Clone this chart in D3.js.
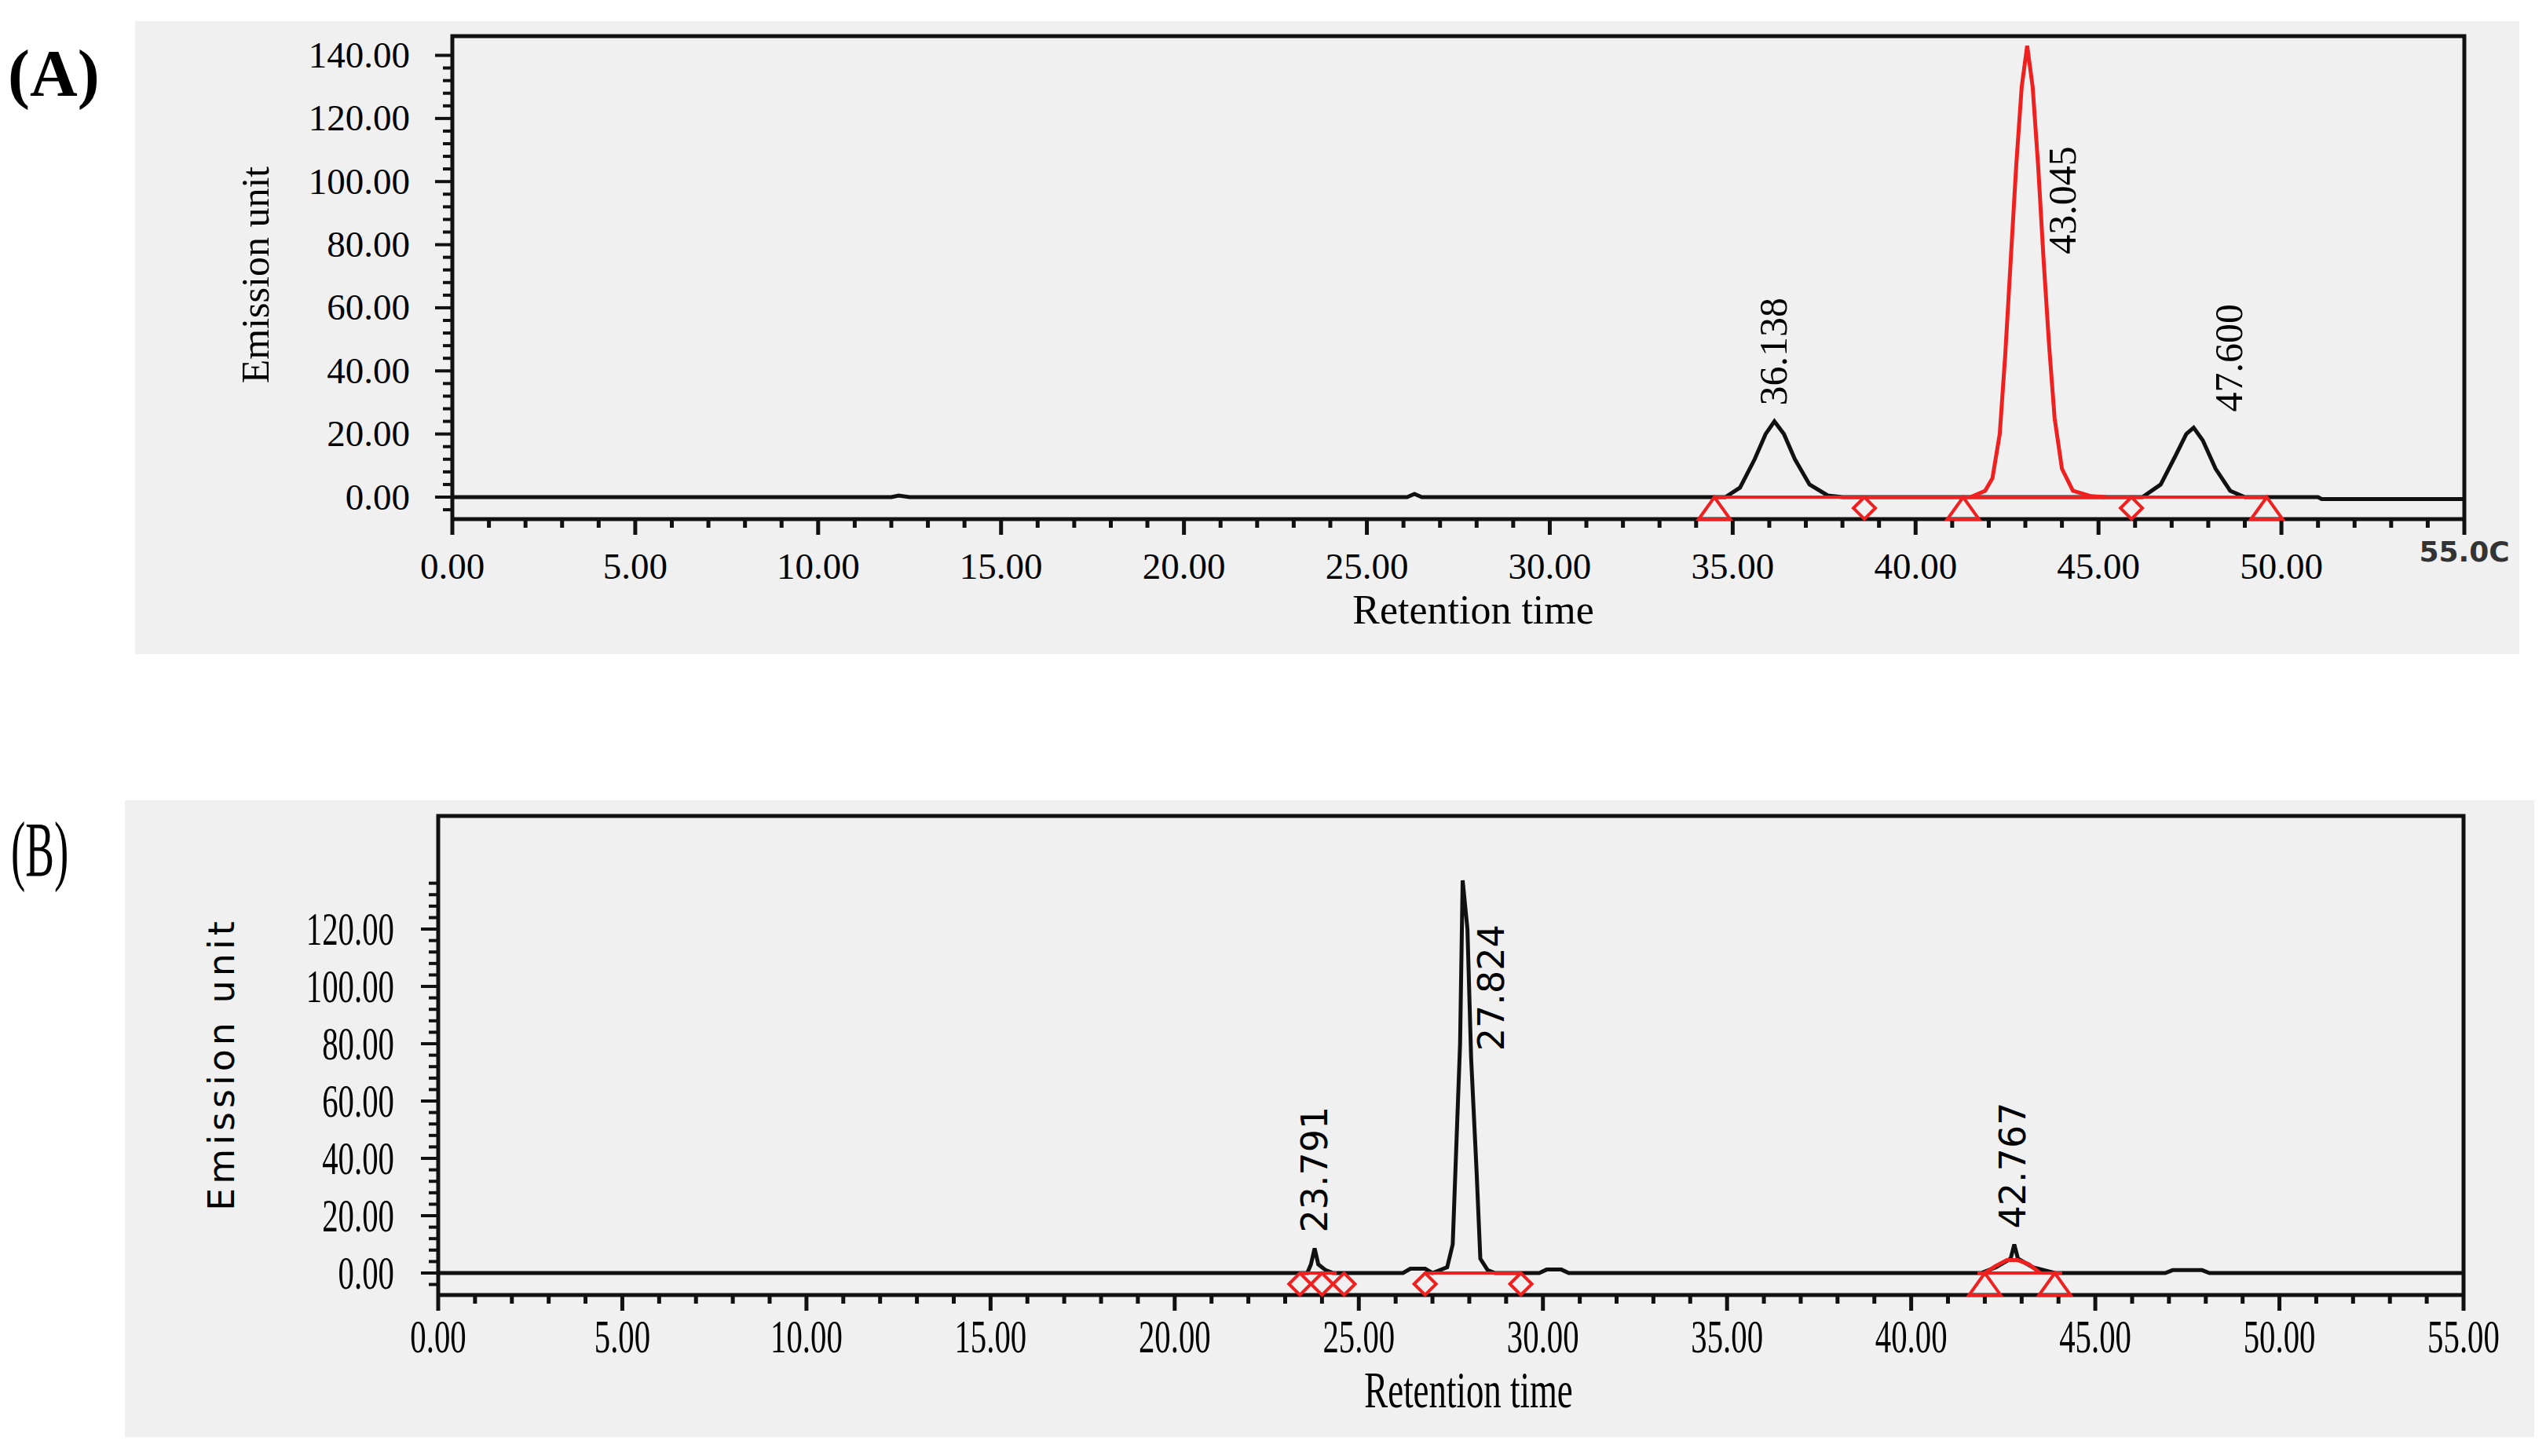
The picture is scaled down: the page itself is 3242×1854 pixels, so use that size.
<!DOCTYPE html>
<html>
<head>
<meta charset="utf-8">
<script src="https://cdn.jsdelivr.net/npm/d3@7"></script>
<style>
  body { margin: 0; background: #fff; }
  text { font-family: "Liberation Serif", "DejaVu Serif", serif; }
</style>
</head>
<body>
<script>
// chromatogram traces: [retention time, emission]
var traceA = [[0,0],[12.0,0],[12.2,0.5],[12.5,0],[26.1,0],[26.3,1],[26.5,0],[34.8,0],[35.2,3],[35.6,12],[35.9,20],[36.14,24],
  [36.4,20],[36.7,12],[37.1,4],[37.6,0.5],[38,0],[41.5,0],[46.2,0],[46.7,4],[47.1,13],[47.4,20],[47.6,22],[47.85,18],
  [48.2,9],[48.6,2],[49,0],[51,0],[51.1,-0.6],[55,-0.6]];
var redPeakA = [[41.5,0],[41.9,2],[42.1,6],[42.3,20],[42.45,45],[42.6,75],[42.75,105],[42.9,130],[43.05,143],[43.2,130],
  [43.35,105],[43.5,75],[43.65,48],[43.8,25],[44.0,9],[44.3,2],[44.8,0.3],[45.2,0]];
var redBaseA = [[34.5,49.6]];
var trianglesA = [34.5, 41.3, 49.6];
var diamondsA = [38.6, 45.9];
var peakLabelsA = [{t:36.138, v:24, s:"36.138"}, {t:43.045, v:72, s:"43.045"}, {t:47.6, v:22, s:"47.600"}];

var traceB = [[0,0],[23.6,0],[23.7,3],[23.8,8.6],[23.9,3],[24.1,1],[24.3,0],[26.2,0],[26.4,1.5],[26.8,1.5],[27.0,0],
  [27.4,2],[27.55,10],[27.65,45],[27.75,80],[27.82,137],[27.95,120],[28.05,75],[28.2,35],[28.3,5],[28.5,1],[28.7,0],
  [29.9,0],[30.1,1.2],[30.5,1.2],[30.7,0],[41.9,0],[42.3,2],[42.7,5],[42.8,10],[42.9,5],[43.3,2],[43.9,0],
  [46.9,0],[47.1,1],[47.9,1],[48.1,0],[55,0]];
var redHumpB = [[42.0,0],[42.3,2.5],[42.6,4.5],[42.9,4.5],[43.2,3],[43.5,0]];
var redBaseB = [[23.4,24.4],[26.8,29.4],[41.8,44.1]];
var trianglesB = [42.0, 43.9];
var diamondsB = [23.4, 24.0, 24.6, 26.8, 29.4];
var peakLabelsB = [{t:23.791, v:8.6, s:"23.791"}, {t:27.824, v:72, s:"27.824"}, {t:42.767, v:10, s:"42.767"}];

var xTicks = [0,5,10,15,20,25,30,35,40,45,50,55];
var yTicksA = [0,20,40,60,80,100,120,140];
var yTicksB = [0,20,40,60,80,100,120];

var svg = d3.select("body").append("svg").attr("width", 3242).attr("height", 1854);

function panel(o) {
  var g = svg.append("g");
  g.append("rect").attr("x", o.bg[0]).attr("y", o.bg[1]).attr("width", o.bg[2]).attr("height", o.bg[3]).attr("fill", "#f0f0f0");
  var x = d3.scaleLinear().domain([0, 55]).range([o.left, o.right]);
  var y = d3.scaleLinear().domain([0, o.ymax]).range([o.y0, o.ytop]);

  // frame
  g.append("path").attr("d", "M" + o.left + "," + o.axisY + "V" + o.top + "H" + o.right + "V" + o.axisY)
    .attr("fill", "none").attr("stroke", "#111").attr("stroke-width", 5);
  g.append("line").attr("x1", o.left).attr("x2", o.right).attr("y1", o.axisY).attr("y2", o.axisY)
    .attr("stroke", "#111").attr("stroke-width", 5);

  // x ticks
  g.selectAll(".xt").data(d3.range(0, 56)).enter().append("line")
    .attr("x1", function(d){ return x(d); }).attr("x2", function(d){ return x(d); })
    .attr("y1", o.axisY).attr("y2", function(d){ return o.axisY + (d % 5 === 0 ? 20 : 11); })
    .attr("stroke", "#111").attr("stroke-width", 5);
  g.selectAll(".xl").data(xTicks).enter().append("text")
    .attr("transform", function(d){ return "translate(" + x(d) + "," + o.xlabY + ") scale(" + o.sx + ",1)"; })
    .attr("text-anchor", "middle").attr("font-size", o.fs)
    .attr("style", function(d){ return d === 55 && o.odd55 ? "font-family:'DejaVu Sans';font-weight:bold;font-size:36px;fill:#333" : null; })
    .attr("dy", function(d){ return d === 55 && o.odd55 ? -22 : 0; })
    .text(function(d){ return d === 55 && o.odd55 ? "55.0C" : d.toFixed(2); });

  // y ticks (minor every 4)
  var ym = d3.range(o.ymin, o.ymax + 0.1, 4);
  g.selectAll(".yt").data(ym).enter().append("line")
    .attr("x1", function(d){ return o.left - (d % 20 === 0 ? 22 : 12); }).attr("x2", o.left)
    .attr("y1", function(d){ return y(d); }).attr("y2", function(d){ return y(d); })
    .attr("stroke", "#111").attr("stroke-width", 4);
  g.selectAll(".yl").data(o.yTicks).enter().append("text")
    .attr("transform", function(d){ return "translate(" + o.ylabX + "," + (y(d) + o.fs * 0.33) + ") scale(" + o.sx + ",1)"; })
    .attr("text-anchor", "end").attr("font-size", o.fs).text(function(d){ return d.toFixed(2); });

  g.append("text").attr("transform", "translate(" + o.yTitleX + "," + o.yTitleY + ") rotate(-90)")
    .attr("text-anchor", "middle").attr("font-size", 50).attr("style", o.yTitleStyle || null).text("Emission unit");
  g.append("text").attr("transform", "translate(" + o.xTitleX + "," + o.xTitleY + ") scale(" + o.sx + ",1)")
    .attr("text-anchor", "middle").attr("font-size", o.titleFs).text("Retention time");
  g.append("text").attr("font-size", o.tagFs)
    .attr("font-weight", o.tagBold ? "bold" : "normal")
    .attr("transform", "translate(" + o.tagX + "," + o.tagY + ") scale(" + o.tagSx + ",1)").text(o.tag);

  var line = d3.line().x(function(d){ return x(d[0]); }).y(function(d){ return y(d[1]); });
  g.append("path").datum(o.trace).attr("d", line).attr("fill", "none").attr("stroke", "#111").attr("stroke-width", 5);

  // red integration marks
  g.selectAll(".rb").data(o.redBase).enter().append("line")
    .attr("x1", function(d){ return x(d[0]); }).attr("x2", function(d){ return x(d[1]); })
    .attr("y1", y(0)).attr("y2", y(0)).attr("stroke", "#ee2020").attr("stroke-width", 4);
  g.append("path").datum(o.redPeak).attr("d", line).attr("fill", "none").attr("stroke", "#ee2020").attr("stroke-width", 5);
  var my = (y(0) + o.axisY) / 2;
  g.selectAll(".tri").data(o.triangles).enter().append("path")
    .attr("d", function(d){ var cx = x(d); return "M" + (cx - 20) + "," + o.axisY + "L" + cx + "," + y(0) + "L" + (cx + 20) + "," + o.axisY + "Z"; })
    .attr("fill", "none").attr("stroke", "#ee2020").attr("stroke-width", 4);
  g.selectAll(".dia").data(o.diamonds).enter().append("path")
    .attr("d", function(d){ var cx = x(d); return "M" + (cx - 14) + "," + my + "L" + cx + "," + (my - 14) + "L" + (cx + 14) + "," + my + "L" + cx + "," + (my + 14) + "Z"; })
    .attr("fill", "none").attr("stroke", "#ee2020").attr("stroke-width", 4);

  g.selectAll(".pl").data(o.peaks).enter().append("text")
    .attr("transform", function(d){ return "translate(" + (x(d.t) + o.plDx(d)) + "," + (y(d.v) - 20) + ") rotate(-90)"; })
    .attr("font-size", 50).attr("style", o.plStyle || null).text(function(d){ return d.s; });
}

panel({
  bg: [172, 27, 3036, 806], left: 576, right: 3138, top: 46, axisY: 661, y0: 633, ytop: 70.5, ymin: -4, ymax: 140,
  yTicks: yTicksA, xlabY: 737, ylabX: 522, sx: 1, fs: 47, titleFs: 52, odd55: true,
  yTitleX: 342, yTitleY: 350, xTitleX: 1876, xTitleY: 794,
  tag: "(A)", tagX: 10, tagY: 122, tagBold: true, tagFs: 84, tagSx: 1,
  trace: traceA, redPeak: redPeakA, redBase: redBaseA, triangles: trianglesA, diamonds: diamondsA,
  peaks: peakLabelsA, plDx: function(d){ return d.t > 43 ? 62 : 16; }
});
panel({
  bg: [159, 1019, 3068, 811], left: 558, right: 3137, top: 1039, axisY: 1649, y0: 1621, ytop: 1121, ymin: -4, ymax: 137,
  yTicks: yTicksB, xlabY: 1722, ylabX: 502, sx: 0.68, fs: 60, titleFs: 66, odd55: false,
  yTitleX: 298, yTitleY: 1355, xTitleX: 1870, xTitleY: 1792,
  yTitleStyle: "font-family:'DejaVu Sans';letter-spacing:5px;font-size:46px",
  tag: "(B)", tagX: 14, tagY: 1115, tagBold: false, tagFs: 100, tagSx: 0.55,
  trace: traceB, redPeak: redHumpB, redBase: redBaseB, triangles: trianglesB, diamonds: diamondsB,
  peaks: peakLabelsB, plDx: function(d){ return d.t > 27 && d.t < 28 ? 52 : 16; },
  plStyle: "font-family:'DejaVu Sans';font-size:46px"
});
</script>
</body>
</html>
